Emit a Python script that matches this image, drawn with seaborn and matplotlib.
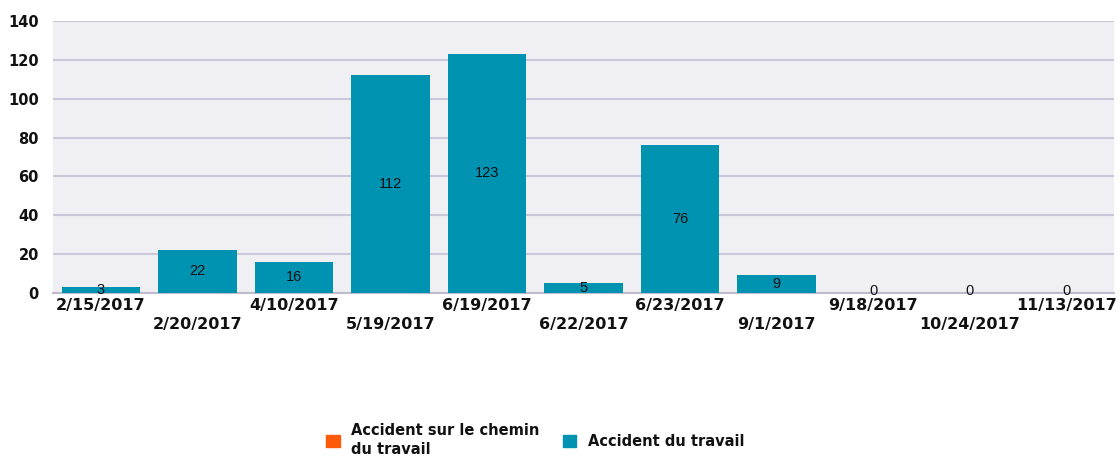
import pandas as pd
import numpy as np
from matplotlib import pyplot as plt
from matplotlib.patches import Patch
import seaborn as sns

# data
dates = ['2/15/2017', '2/20/2017', '4/10/2017', '5/19/2017', '6/19/2017', '6/22/2017',
         '6/23/2017', '9/1/2017', '9/18/2017', '10/24/2017', '11/13/2017']
travail = [3, 22, 16, 112, 123, 5, 76, 9, 0, 0, 0]
chemin = [0, 0, 0, 0, 0, 0, 0, 0, 0, 0, 0]
series_names = ['Accident sur le chemin\ndu travail', 'Accident du travail']

teal = '#0093b1'
orange = '#ff5a0a'

sns.set_style('white')
plt.rcParams['font.family'] = ['DejaVu Sans']
plt.rcParams['text.color'] = '#111111'
plt.rcParams['xtick.color'] = '#111111'
plt.rcParams['ytick.color'] = '#111111'

df = pd.DataFrame({'date': dates, 'travail': travail, 'chemin': chemin})

fig = plt.figure(figsize=(11.2, 4.59), dpi=100)
ax = fig.add_axes([0.047, 0.362, 0.948, 0.592])
ax.set_facecolor('#f0eff4')

sns.barplot(data=df, x='date', y='travail', color=teal, width=0.81, saturation=1,
            linewidth=0, ax=ax, zorder=3)
sns.barplot(data=df, x='date', y='chemin', color=orange, width=0.81, saturation=1,
            linewidth=0, ax=ax, zorder=3)

# value labels in the middle of the bars
for i, v in enumerate(travail):
    ax.text(i, max(v / 2, 1.2), str(v), ha='center', va='center', fontsize=10.5,
            family='Liberation Sans', color='#111111', zorder=4)

ax.set_ylim(0, 140)
ax.set_xlim(-0.5, len(dates) - 0.5)
ax.set_yticks(np.arange(0, 141, 20))
ax.yaxis.grid(True, color='#c9c7d8', linewidth=1.5, zorder=0)
ax.set_axisbelow(True)
for s in ['top', 'right', 'left']:
    ax.spines[s].set_visible(False)
ax.spines['bottom'].set_color('#bdbbcc')
ax.spines['bottom'].set_linewidth(1.5)

ax.set_xticks(range(len(dates)))
ax.set_xticklabels([d if i % 2 == 0 else '\n' + d for i, d in enumerate(dates)],
                   fontsize=11.5, fontweight='bold', linespacing=1.3)
ax.tick_params(axis='x', length=0, pad=4)
ax.tick_params(axis='y', length=0, pad=10)
for lbl in ax.get_yticklabels():
    lbl.set_fontweight('bold')
    lbl.set_fontsize(10.5)
ax.set_xlabel('')
ax.set_ylabel('')

handles = [Patch(color=orange), Patch(color=teal)]
fig.legend(handles, series_names, loc='center', bbox_to_anchor=(0.478, 0.042), ncol=2,
           frameon=False, handlelength=0.9, handleheight=0.9, columnspacing=1.6,
           prop={'weight': 'bold', 'size': 10.5})
for t in fig.legends[0].get_texts():
    t.set_linespacing(1.35)

fig.savefig('out.png', dpi=100)
